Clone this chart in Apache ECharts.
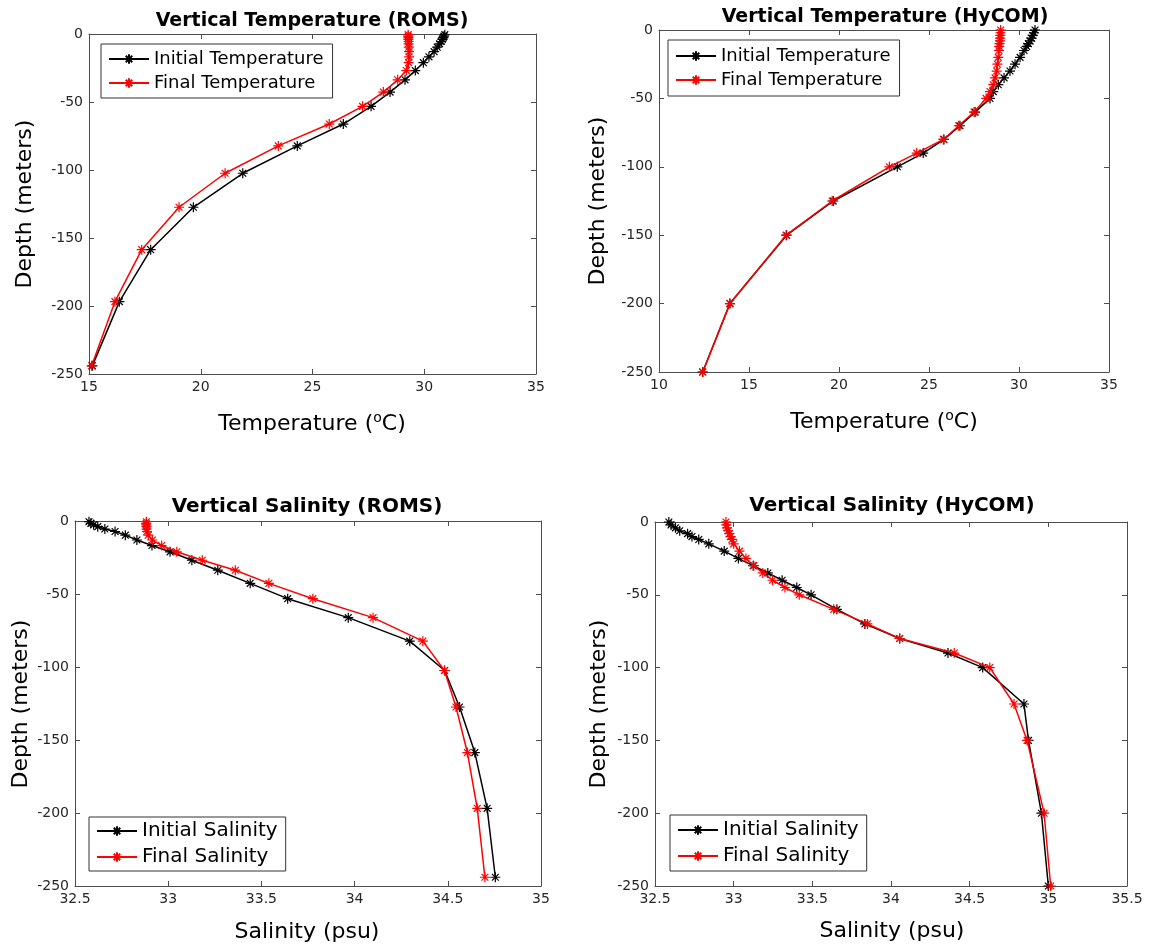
<!DOCTYPE html>
<html>
<head>
<meta charset="utf-8">
<script src="https://cdn.jsdelivr.net/npm/echarts@6/dist/echarts.min.js"></script>
<style>
  html, body { margin: 0; padding: 0; background: #fff; }
  #chart { width: 1151px; height: 947px; }
</style>
</head>
<body>
<div id="chart"></div>
<script>
// ---------------- DATA ----------------
// ROMS vertical levels (m)
const romsDepth = [-0.5, -1.6, -2.6, -3.9, -5.5, -7.2, -9.7, -13.0, -16.8, -21.1, -26.9, -33.7, -42.7, -53.2, -66.2, -82.3, -102.4, -127.4, -158.6, -196.8, -244.0];
const romsTempInit  = [30.92, 30.88, 30.85, 30.81, 30.76, 30.69, 30.58, 30.44, 30.21, 29.96, 29.60, 29.14, 28.47, 27.62, 26.38, 24.32, 21.88, 19.67, 17.76, 16.36, 15.15];
const romsTempFinal = [29.28, 29.28, 29.29, 29.29, 29.30, 29.30, 29.31, 29.32, 29.32, 29.30, 29.20, 28.81, 28.17, 27.24, 25.75, 23.47, 21.09, 19.03, 17.36, 16.16, 15.12];
const romsSaltInit  = [32.575, 32.585, 32.600, 32.622, 32.660, 32.715, 32.770, 32.832, 32.913, 33.010, 33.127, 33.266, 33.440, 33.641, 33.966, 34.296, 34.483, 34.563, 34.645, 34.711, 34.755];
const romsSaltFinal = [32.883, 32.882, 32.882, 32.883, 32.884, 32.886, 32.893, 32.915, 32.965, 33.046, 33.183, 33.360, 33.540, 33.776, 34.099, 34.366, 34.482, 34.544, 34.605, 34.658, 34.699];

// HyCOM vertical levels (m)
const hycomDepth = [0, -2, -4, -6, -8, -10, -12, -15, -20, -25, -30, -35, -40, -45, -50, -60, -70, -80, -90, -100, -125, -150, -200, -250];
const hycomTempInit  = [30.89, 30.83, 30.76, 30.70, 30.61, 30.52, 30.43, 30.28, 30.06, 29.78, 29.50, 29.17, 28.85, 28.57, 28.39, 27.56, 26.72, 25.83, 24.68, 23.24, 19.68, 17.09, 13.94, 12.43];
const hycomTempFinal = [28.98, 28.97, 28.96, 28.95, 28.94, 28.92, 28.90, 28.89, 28.85, 28.80, 28.76, 28.67, 28.57, 28.39, 28.17, 27.50, 26.65, 25.80, 24.32, 22.80, 19.62, 17.06, 13.94, 12.43];
const hycomSaltInit  = [32.588, 32.602, 32.630, 32.657, 32.707, 32.735, 32.778, 32.842, 32.940, 33.030, 33.124, 33.217, 33.308, 33.401, 33.492, 33.656, 33.834, 34.055, 34.362, 34.583, 34.845, 34.874, 34.956, 35.000];
const hycomSaltFinal = [32.951, 32.953, 32.958, 32.964, 32.973, 32.980, 32.989, 33.000, 33.037, 33.078, 33.128, 33.185, 33.247, 33.326, 33.417, 33.636, 33.850, 34.055, 34.402, 34.628, 34.782, 34.865, 34.973, 35.015];

// axis ranges / ticks
const tempRomsX  = [15, 35, 5];
const tempHycomX = [10, 35, 5];
const saltRomsX  = [32.5, 35, 0.5];
const saltHycomX = [32.5, 35.5, 0.5];
const depthY = [-250, 0, 50];

const titles = ['Vertical Temperature (ROMS)', 'Vertical Temperature (HyCOM)', 'Vertical Salinity (ROMS)', 'Vertical Salinity (HyCOM)'];
const tempNames = ['Initial Temperature', 'Final Temperature'];
const saltNames = ['Initial Salinity', 'Final Salinity'];

// ---------------- CHART ----------------
const FONT = 'DejaVu Sans';
const AX = '#4d4d4d';
const TXT = '#262626';
const BLACK = '#000000';
const RED = '#ff0000';
const STAR = 'path://M5 0L5 10M0 5L10 5M1.6 1.6L8.4 8.4M8.4 1.6L1.6 8.4';

const grids = [
  { left: 89, top: 34, width: 447, height: 340 },
  { left: 659, top: 30, width: 450, height: 342 },
  { left: 75, top: 521, width: 466, height: 365 },
  { left: 655, top: 522, width: 472, height: 364 }
];
const xRanges = [tempRomsX, tempHycomX, saltRomsX, saltHycomX];

function mkAxis(g, r, pos, isX) {
  const labeled = (pos === 'bottom' || pos === 'left');
  return {
    type: 'value', gridIndex: g, min: r[0], max: r[1], interval: r[2], position: pos,
    axisLine: { show: true, onZero: false, lineStyle: { color: AX, width: 1 } },
    axisTick: { show: true, inside: true, length: 5, lineStyle: { color: AX, width: 1 } },
    axisLabel: { show: labeled, fontSize: 14, color: TXT, fontFamily: FONT, margin: isX ? 6 : 6, hideOverlap: false },
    splitLine: { show: false }
  };
}
const xAxes = [], yAxes = [];
for (let g = 0; g < 4; g++) {
  xAxes.push(mkAxis(g, xRanges[g], 'bottom', true));
  xAxes.push(mkAxis(g, xRanges[g], 'top', true));
  yAxes.push(mkAxis(g, depthY, 'left', false));
  yAxes.push(mkAxis(g, depthY, 'right', false));
}

function pairs(xs, ys) { return xs.map((v, i) => [v, ys[i]]); }
function mkSeries(name, g, xs, ys, color) {
  return {
    type: 'line', name: name, xAxisIndex: 2 * g, yAxisIndex: 2 * g,
    data: pairs(xs, ys),
    symbol: STAR, symbolSize: 10,
    itemStyle: { color: 'rgba(0,0,0,0)', borderColor: color, borderWidth: 1.2 },
    lineStyle: { color: color, width: 1.5 },
    color: color,
    silent: true, z: color === RED ? 3 : 2
  };
}
const series = [
  mkSeries(tempNames[0], 0, romsTempInit, romsDepth, BLACK),
  mkSeries(tempNames[1], 0, romsTempFinal, romsDepth, RED),
  mkSeries(tempNames[0], 1, hycomTempInit, hycomDepth, BLACK),
  mkSeries(tempNames[1], 1, hycomTempFinal, hycomDepth, RED),
  mkSeries(saltNames[0], 2, romsSaltInit, romsDepth, BLACK),
  mkSeries(saltNames[1], 2, romsSaltFinal, romsDepth, RED),
  mkSeries(saltNames[0], 3, hycomSaltInit, hycomDepth, BLACK),
  mkSeries(saltNames[1], 3, hycomSaltFinal, hycomDepth, RED)
];

function mkLegend(names, left, top, fs, pad) {
  return {
    data: names, orient: 'vertical', left: left, top: top,
    itemWidth: 40, itemHeight: 12, itemGap: 6,
    backgroundColor: '#fff', borderColor: '#333', borderWidth: 1, padding: pad,
    selectedMode: false,
    textStyle: { fontSize: fs, lineHeight: fs, fontFamily: FONT, color: '#000' }
  };
}
const legends = [
  mkLegend(tempNames, 101, 44, 18, [6, 9, 6, 7]),
  mkLegend(tempNames, 668, 40, 18, [7, 9, 7, 7]),
  mkLegend(saltNames, 89, 817, 20, [4, 8, 4, 7]),
  mkLegend(saltNames, 670, 815, 20, [5, 8, 5, 7])
];

function txt(text, x, y, size, bold, rot, rich) {
  return {
    type: 'text', x: x, y: y, rotation: rot || 0, silent: true,
    style: {
      text: text, fill: '#000', align: 'center', verticalAlign: 'middle',
      fontSize: size, fontWeight: bold ? 'bold' : 'normal', fontFamily: FONT,
      lineHeight: size + 4, rich: rich
    }
  };
}
const supRich = { sup: { fontSize: 14, fontFamily: FONT, fill: '#000', verticalAlign: 'top', lineHeight: 14 } };
const graphics = [
  txt(titles[0], 312, 21, 19, true),
  txt(titles[1], 885, 17, 19, true),
  txt(titles[2], 307, 507, 20, true),
  txt(titles[3], 892, 506, 20, true),
  txt('Temperature ({sup|o}C)', 312, 424, 22, false, 0, supRich),
  txt('Temperature ({sup|o}C)', 884, 422, 22, false, 0, supRich),
  txt('Salinity (psu)', 307, 932, 22, false),
  txt('Salinity (psu)', 892, 931, 22, false),
  txt('Depth (meters)', 25, 204, 22, false, Math.PI / 2),
  txt('Depth (meters)', 598, 201, 22, false, Math.PI / 2),
  txt('Depth (meters)', 21, 704, 22, false, Math.PI / 2),
  txt('Depth (meters)', 599, 704, 22, false, Math.PI / 2)
];

const chart = echarts.init(document.getElementById('chart'), null, { renderer: 'canvas' });
chart.setOption({
  animation: false,
  backgroundColor: '#fff',
  grid: grids,
  xAxis: xAxes,
  yAxis: yAxes,
  legend: legends,
  series: series,
  graphic: graphics
});
</script>
</body>
</html>
